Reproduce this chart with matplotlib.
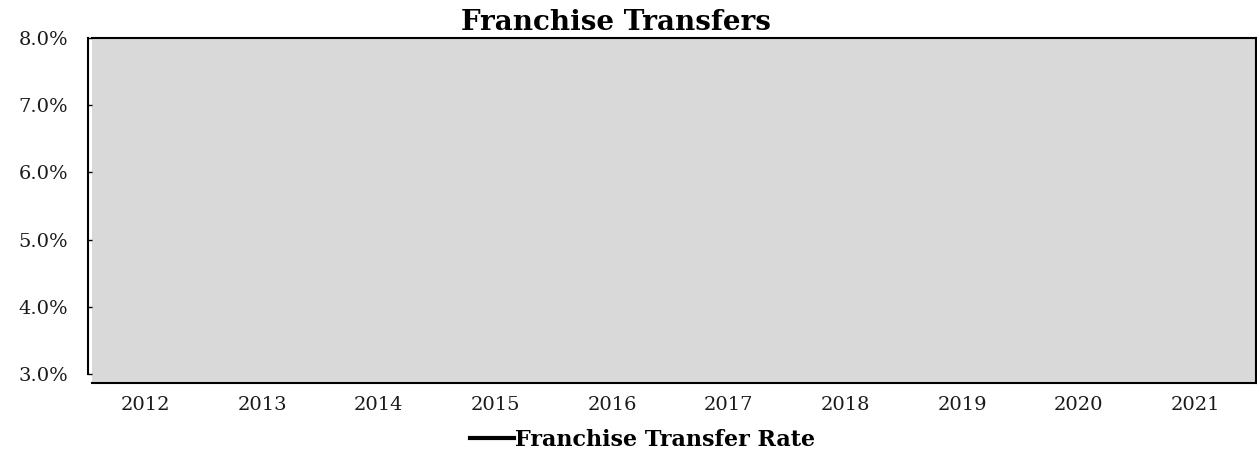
import numpy as np
import matplotlib
matplotlib.use('Agg')
import matplotlib.pyplot as plt

# data: the line sits outside the visible range in the reference, so no points show
years = ['2012', '2013', '2014', '2015', '2016', '2017', '2018', '2019', '2020', '2021']
rate = [None, None, None, None, None, None, None, None, None, None]
y_ticks = [3.0, 4.0, 5.0, 6.0, 7.0, 8.0]

plt.rcParams['font.family'] = ['DejaVu Serif']

fig = plt.figure(figsize=(12.57, 4.55), dpi=100)
ax = fig.add_axes([92/1257, 1 - 383/455, (1256-92)/1257, (383-38)/455])

x = np.arange(len(years))
vals = np.array([np.nan if v is None else v for v in rate], dtype=float)
ax.plot(x, vals, color='black', lw=3, label='Franchise Transfer Rate')

ax.set_facecolor('#d9d9d9')
ax.set_xlim(-0.46, 9.52)
ax.set_ylim(2.866, 8.0)

#frame
for s in ['top', 'right', 'bottom']:
    ax.spines[s].set_color('black')
    ax.spines[s].set_linewidth(1.5)
ax.spines['left'].set_position(('outward', 3))
ax.spines['left'].set_bounds(3.0, 8.0)
ax.spines['left'].set_linewidth(1.5)

ax.set_yticks(y_ticks)
ax.set_yticklabels(['%.1f%%' % v for v in y_ticks], fontsize=14, color='#1a1a1a')
ax.tick_params(axis='y', direction='in', length=3, width=1, pad=14)
ax.set_xticks(x)
ax.set_xticklabels(years, fontsize=14, color='#1a1a1a')
ax.tick_params(axis='x', length=0, pad=9)

fig.text(0.49, 1 - 22/455, 'Franchise Transfers', ha='center', va='center',
         fontsize=20, fontweight='bold')

leg = ax.legend(loc='center', bbox_to_anchor=(0.473, -0.165), frameon=False,
                handlelength=2.0, handletextpad=0.05, prop={'weight': 'bold', 'size': 16})

plt.savefig('out.png', dpi=100)
